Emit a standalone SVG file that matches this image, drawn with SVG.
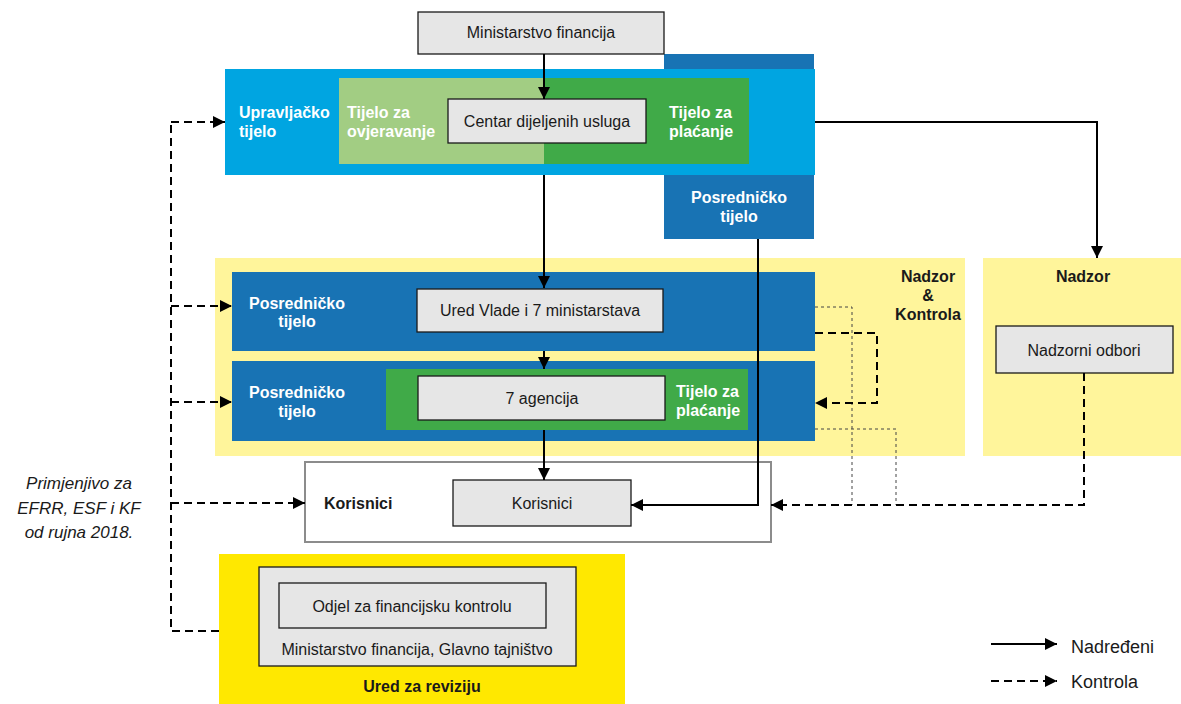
<svg xmlns="http://www.w3.org/2000/svg" width="1181" height="704" viewBox="0 0 1181 704">
<style>
text{font-family:"Liberation Sans",Arial,sans-serif;font-size:16px;fill:#1a1a1a}
.b{font-weight:bold}
.w{fill:#fff;font-weight:bold}
.c{text-anchor:middle}
.box{fill:#e6e6e6;stroke:#1a1a1a;stroke-width:1.3}
.sol{fill:none;stroke:#000;stroke-width:2}
.dash{fill:none;stroke:#000;stroke-width:2;stroke-dasharray:8 5}
.thin{fill:none;stroke:#444;stroke-width:1;stroke-dasharray:3 3}
</style>
<defs>
<marker id="ah" viewBox="0 0 10 10" refX="10" refY="5" markerWidth="6" markerHeight="6" markerUnits="strokeWidth" orient="auto"><path d="M0,0L10,5L0,10z" fill="#000"/></marker>
</defs>
<rect width="1181" height="704" fill="#fff"/>
<g id="posrednicko-top">
<rect x="664" y="54" width="150" height="185" fill="#1873b4"/>
<text class="w c" x="739" y="203">Posredničko</text>
<text class="w c" x="739" y="222">tijelo</text>
</g>
<g id="upravljacko">
<rect x="225" y="69" width="590" height="106" fill="#00a5e1"/>
<rect x="339" y="78" width="205" height="86" fill="#a2cd83"/>
<rect x="544" y="78" width="205" height="86" fill="#40aa48"/>
<text class="w" x="239" y="118">Upravljačko</text>
<text class="w" x="239" y="137">tijelo</text>
<text class="w" x="347" y="118">Tijelo za</text>
<text class="w" x="347" y="137">ovjeravanje</text>
<text class="w" x="669" y="118">Tijelo za</text>
<text class="w" x="669" y="137">plaćanje</text>
</g>
<g id="ministarstvo">
<rect class="box" x="418" y="12" width="246" height="42"/>
<text class="c" x="541" y="38">Ministarstvo financija</text>
</g>
<g id="centar">
<rect class="box" x="448" y="99" width="198" height="44"/>
<text class="c" x="547" y="127">Centar dijeljenih usluga</text>
</g>
<g id="nadzor-kontrola">
<rect x="215" y="258" width="750" height="198" fill="#fff59b"/>
<text class="b c" x="928" y="282">Nadzor</text>
<text class="b c" x="928" y="301">&amp;</text>
<text class="b c" x="928" y="320">Kontrola</text>
</g>
<g id="nadzor">
<rect x="983" y="258" width="198" height="198" fill="#fff59b"/>
<text class="b c" x="1083" y="282">Nadzor</text>
</g>
<g id="nadzorni-odbori">
<rect class="box" x="996" y="326" width="177" height="47"/>
<text class="c" x="1084" y="356">Nadzorni odbori</text>
</g>
<g id="posrednicko-1">
<rect x="232" y="272" width="583" height="79" fill="#1873b4"/>
<text class="w c" x="297" y="309">Posredničko</text>
<text class="w c" x="297" y="327">tijelo</text>
</g>
<g id="ured-vlade">
<rect class="box" x="417" y="289" width="246" height="43"/>
<text class="c" x="540" y="316">Ured Vlade i 7 ministarstava</text>
</g>
<g id="posrednicko-2">
<rect x="232" y="361" width="583" height="80" fill="#1873b4"/>
<rect x="386" y="369" width="362" height="61" fill="#40aa48"/>
<text class="w c" x="297" y="398">Posredničko</text>
<text class="w c" x="297" y="417">tijelo</text>
<text class="w" x="676" y="397">Tijelo za</text>
<text class="w" x="676" y="416">plaćanje</text>
</g>
<g id="agencija">
<rect class="box" x="418" y="376" width="247" height="44"/>
<text class="c" x="542" y="404">7 agencija</text>
</g>
<g id="korisnici">
<rect x="305" y="462" width="466" height="80" fill="#fff" stroke="#8c8c8c" stroke-width="2"/>
<text class="b" x="324" y="509">Korisnici</text>
<rect class="box" x="453" y="480" width="178" height="46"/>
<text class="c" x="542" y="509">Korisnici</text>
</g>
<g id="ured-za-reviziju">
<rect x="219" y="554" width="406" height="150" fill="#ffe800"/>
<rect class="box" x="259" y="567" width="317" height="99"/>
<rect class="box" x="279" y="583" width="267" height="45"/>
<text class="c" x="412" y="612">Odjel za financijsku kontrolu</text>
<text class="c" x="417" y="655">Ministarstvo financija, Glavno tajništvo</text>
<text class="b c" x="422" y="692">Ured za reviziju</text>
</g>
<g id="note">
<text class="c" x="79" y="489" style="font-style:italic;font-size:17px">Primjenjivo za</text>
<text class="c" x="79" y="514" style="font-style:italic;font-size:17px">EFRR, ESF i KF</text>
<text class="c" x="79" y="538" style="font-style:italic;font-size:17px">od rujna 2018.</text>
</g>
<g id="connectors">
<path class="sol" d="M544,54V99" marker-end="url(#ah)"/>
<path class="sol" d="M544,175V288" marker-end="url(#ah)"/>
<path class="sol" d="M544,351V369" marker-end="url(#ah)"/>
<path class="sol" d="M544,430V480" marker-end="url(#ah)"/>
<path class="sol" d="M758,239V505H631" marker-end="url(#ah)"/>
<path class="sol" d="M815,122H1097V258" marker-end="url(#ah)"/>
<path class="dash" d="M219,631H171V122"/>
<path class="dash" d="M171,122H225" marker-end="url(#ah)"/>
<path class="dash" d="M171,306H232" marker-end="url(#ah)"/>
<path class="dash" d="M171,402H232" marker-end="url(#ah)"/>
<path class="dash" d="M171,503H305" marker-end="url(#ah)"/>
<path class="thin" d="M815,307H852V505"/>
<path class="thin" d="M815,429H896V505"/>
<path class="dash" d="M1084,373V505H771" marker-end="url(#ah)"/>
<path class="dash" d="M815,333H877V403H815" marker-end="url(#ah)"/>
</g>
<g id="legend">
<path class="sol" d="M991,644H1057" marker-end="url(#ah)"/>
<path class="dash" d="M991,681H1057" marker-end="url(#ah)"/>
<text x="1071" y="653" style="font-size:18px">Nadređeni</text>
<text x="1071" y="688" style="font-size:18px">Kontrola</text>
</g>
</svg>
